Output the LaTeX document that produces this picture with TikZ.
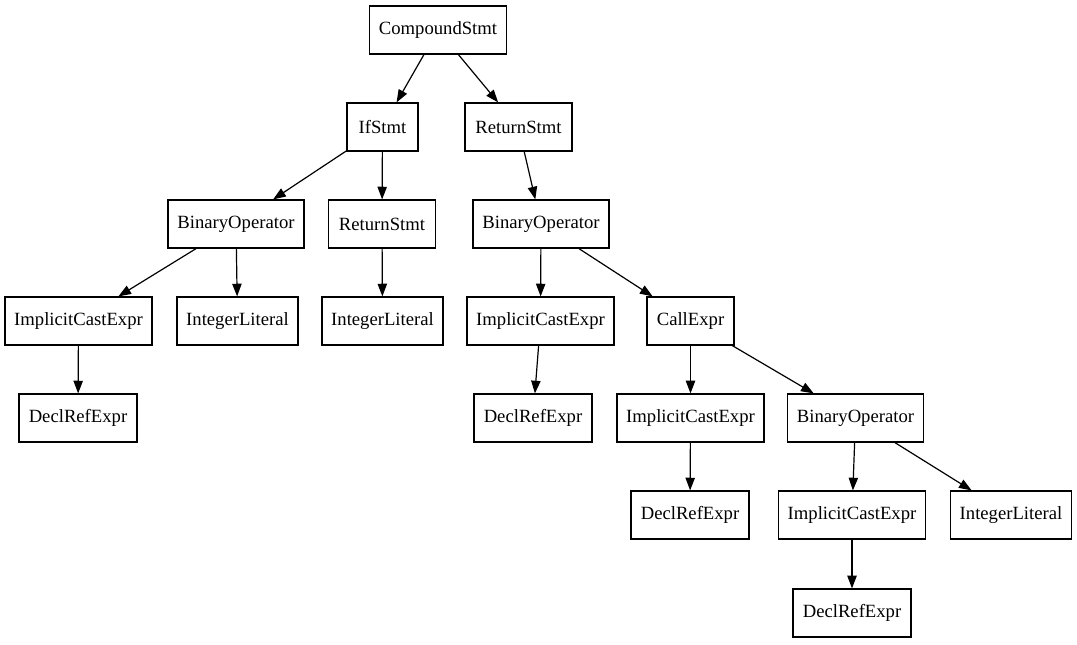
\documentclass[tikz,border=0pt]{standalone}
\usepackage{fontspec}
\setmainfont{Liberation Serif}
\usetikzlibrary{arrows.meta}
\begin{document}
\begin{tikzpicture}[x=0.75pt,y=-0.75pt,
  box/.style={draw, line width=0.9pt, minimum height=36pt, inner sep=0pt, font=\fontsize{14}{16}\selectfont},
  wcs/.style={box, minimum width=102.75pt},
  wif/.style={box, minimum width=53.25pt},
  wrs/.style={box, minimum width=80.25pt},
  wbo/.style={box, minimum width=102pt},
  wic/.style={box, minimum width=110.25pt},
  wil/.style={box, minimum width=90.75pt},
  wce/.style={box, minimum width=65.25pt},
  wdr/.style={box, minimum width=88.5pt},
  edge/.style={line width=0.9pt, -{Triangle[length=9.5pt,width=7pt]}}]
\useasboundingbox (0,0) rectangle (1077,644);
\node[wcs] (cs)  at (438,30)    {CompoundStmt};
\node[wif] (if)  at (382.5,127) {IfStmt};
\node[wrs] (rs1) at (518.5,127) {ReturnStmt};
\node[wbo] (bo1) at (236,224)   {BinaryOperator};
\node[wrs] (rs2) at (382,224)   {ReturnStmt};
\node[wbo] (bo2) at (541,224)   {BinaryOperator};
\node[wic] (ic1) at (78.5,321)  {ImplicitCastExpr};
\node[wil] (il1) at (237.5,321) {IntegerLiteral};
\node[wil] (il2) at (382.5,321) {IntegerLiteral};
\node[wic] (ic2) at (540.5,321) {ImplicitCastExpr};
\node[wce] (ce)  at (690.5,321) {CallExpr};
\node[wdr] (dr1) at (78,418)    {DeclRefExpr};
\node[wdr] (dr2) at (533,418)   {DeclRefExpr};
\node[wic] (ic3) at (690.5,418) {ImplicitCastExpr};
\node[wbo] (bo3) at (855.5,418) {BinaryOperator};
\node[wdr] (dr3) at (690,515)   {DeclRefExpr};
\node[wic] (ic4) at (852,515)   {ImplicitCastExpr};
\node[wil] (il3) at (1011,515)  {IntegerLiteral};
\node[wdr] (dr4) at (852,613)   {DeclRefExpr};
\draw[edge] (cs) -- (if);
\draw[edge] (cs) -- (rs1);
\draw[edge] (if) -- (bo1);
\draw[edge] (if) -- (rs2);
\draw[edge] (rs1) -- (bo2);
\draw[edge] (bo1) -- (ic1);
\draw[edge] (bo1) -- (il1);
\draw[edge] (rs2) -- (il2);
\draw[edge] (bo2) -- (ic2);
\draw[edge] (bo2) -- (ce);
\draw[edge] (ic1) -- (dr1);
\draw[edge] (ic2) -- (dr2);
\draw[edge] (ce) -- (ic3);
\draw[edge] (ce) -- (bo3);
\draw[edge] (ic3) -- (dr3);
\draw[edge] (bo3) -- (ic4);
\draw[edge] (bo3) -- (il3);
\draw[edge] (ic4) -- (dr4);
\end{tikzpicture}
\end{document}
